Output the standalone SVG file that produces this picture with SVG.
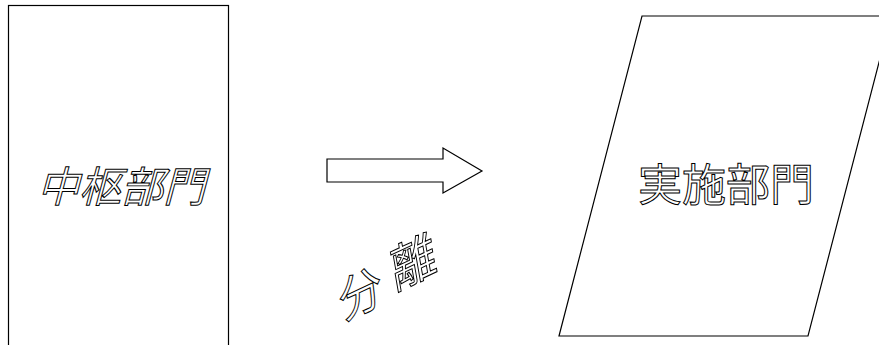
<svg xmlns="http://www.w3.org/2000/svg" width="879" height="345" viewBox="0 0 879 345">
<style>
.shape{fill:#fff;stroke:#000;stroke-width:1.2}
.hollow{fill:#fff;stroke:#000;stroke-width:1;font-family:"Noto Sans CJK JP","Noto Sans CJK SC",sans-serif;text-anchor:middle;dominant-baseline:central}
</style>
<rect width="879" height="345" fill="#fff"/>
<g id="chusu">
<rect class="shape" x="8.5" y="5.5" width="220" height="345"/>
<text class="hollow" font-size="42" transform="translate(126,183) skewX(-15)" x="0" y="0">中枢部門</text>
</g>
<g id="connectors">
<polygon class="shape" points="327,159 443,159 443,148 482,171 443,193 443,182 327,182"/>
<g id="bunri-label">
<text class="hollow" font-size="46" transform="translate(360,290) rotate(-25) skewX(-15)">分</text>
<text class="hollow" font-size="48" transform="translate(413,258) rotate(-25) skewX(-15)">離</text>
</g>
</g>
<g id="jisshi">
<polygon class="shape" points="642,16 891,16 808,336 559,336"/>
<text class="hollow" font-size="44" x="726" y="182" stroke="#333">実施部門</text>
</g>
</svg>
